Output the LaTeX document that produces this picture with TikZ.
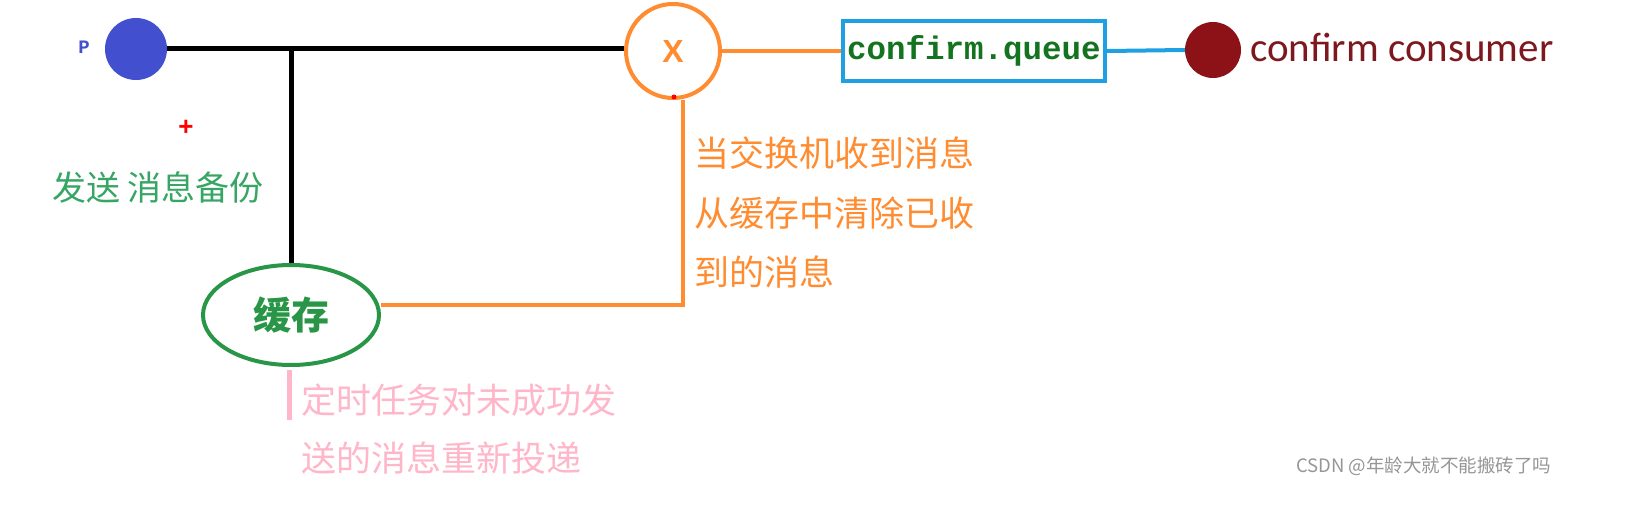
\documentclass[tikz,border=0pt]{standalone}
\usepackage{fontspec}
\setmainfont{Liberation Sans}
\newfontfamily\cjk{Noto Sans CJK SC}
\newfontfamily\monob{Liberation Mono}
\newfontfamily\carl{Carlito}
\usetikzlibrary{shapes.geometric}
\definecolor{pblue}{RGB}{66,80,208}
\definecolor{xorange}{RGB}{255,140,48}
\definecolor{boxblue}{RGB}{30,160,226}
\definecolor{qgreen}{RGB}{20,115,30}
\definecolor{dred}{RGB}{140,18,24}
\definecolor{ctext}{RGB}{125,25,30}
\definecolor{egreen}{RGB}{40,150,70}
\definecolor{tgreen}{RGB}{55,165,100}
\definecolor{pinkc}{RGB}{255,182,200}
\definecolor{wgray}{RGB}{150,150,150}
\tikzset{
  txt/.style={inner sep=0pt, anchor=west},
  cjktext/.style={txt, font=\cjk\fontsize{35}{40}\selectfont},
}
\begin{document}
\begin{tikzpicture}[x=1pt,y=-1pt]
\useasboundingbox[fill=white] (0,0) rectangle (1652,508);
% nodes
\node[circle, fill=pblue, minimum size=62, inner sep=0] (p) at (136,49) {};
\node[txt, anchor=center, text=pblue, font=\monob\bfseries\fontsize{19}{19}\selectfont] (plabel) at (84,47) {P};
\node[circle, draw=xorange, line width=4, minimum size=94, inner sep=0, text=xorange, font=\bfseries\fontsize{32}{32}\selectfont] (x) at (673,51) {X};
\node[rectangle, draw=boxblue, line width=4, minimum width=262, minimum height=60, inner sep=0, text=qgreen, font=\monob\bfseries\fontsize{32.5}{32.5}\selectfont] (q) at (974,51) {confirm.queue};
\node[circle, fill=dred, minimum size=56, inner sep=0] (c) at (1213,50) {};
\node[txt, text=ctext, font=\carl\fontsize{41}{41}\selectfont] (clabel) at (1250,47) {confirm consumer};
\node[ellipse, draw=egreen, line width=4, minimum width=176, minimum height=100, inner sep=0, text=egreen, font=\cjk\bfseries\fontsize{38}{38}\selectfont] (cache) at (291,315) {缓存};
\node[txt, anchor=center, text=red, font=\bfseries\fontsize{26}{26}\selectfont] (plus) at (186,128) {+};
\node[txt, text=tgreen, font=\cjk\fontsize{34}{34}\selectfont] (send) at (52,187) {发送 消息备份};
\node[cjktext, text=xorange] (o1) at (694,153) {当交换机收到消息};
\node[cjktext, text=xorange] (o2) at (694,213) {从缓存中清除已收};
\node[cjktext, text=xorange] (o3) at (694,272) {到的消息};
\node[cjktext, text=pinkc] (k1) at (301,400) {定时任务对未成功发};
\node[cjktext, text=pinkc] (k2) at (301,458) {送的消息重新投递};
\node[txt, text=wgray, font=\cjk\fontsize{18.5}{19}\selectfont] (wm) at (1296,466) {CSDN @年龄大就不能搬砖了吗};
% coordinates
\coordinate (j) at (291,49);
\coordinate (c2) at (683,305);
\coordinate (pk) at (289,420);
% connectors
\draw[line width=5] (p.east) -- (x.west |- p.east);
\draw[line width=5] (j) -- (cache.north);
\draw[xorange, line width=4] (x.east) -- (q.west);
\draw[boxblue, line width=4] (q.east) -- (c.west);
\draw[xorange, line width=4] (cache.east |- c2) -- (c2) -- (c2 |- x.south);
\fill[red] (674,97) circle (2.5);
\draw[pinkc, line width=5] ([yshift=-3]cache.south) ++(-2,0) -- (pk);
\end{tikzpicture}
\end{document}
